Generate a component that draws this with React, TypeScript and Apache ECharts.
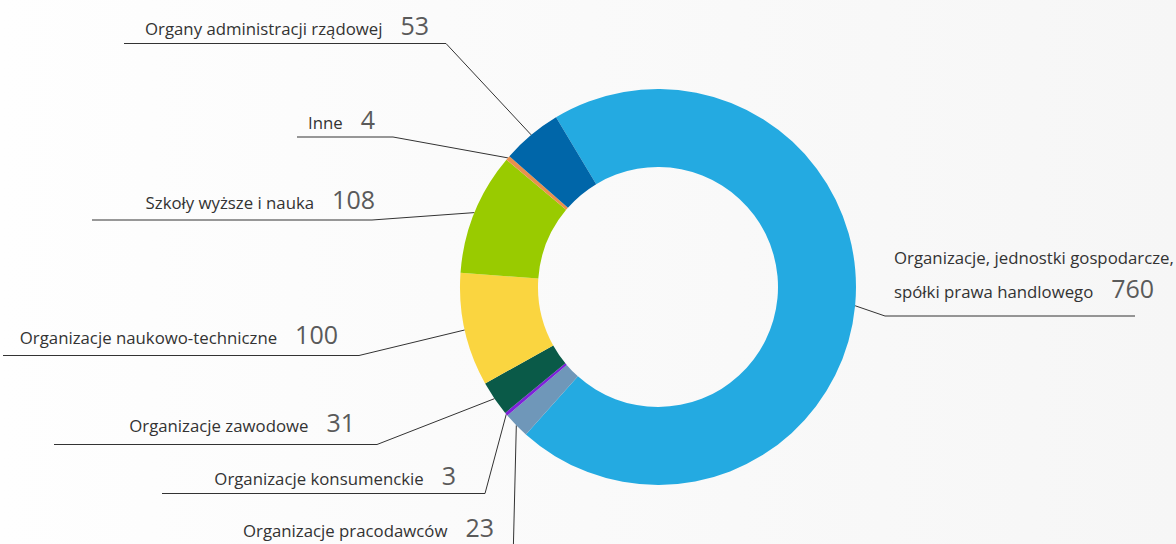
import React, { useEffect, useRef } from 'react';
import * as echarts from 'echarts';

const categories = [
  'Organizacje, jednostki gospodarcze,\nspółki prawa handlowego',
  'Organizacje pracodawców',
  'Organizacje konsumenckie',
  'Organizacje zawodowe',
  'Organizacje naukowo-techniczne',
  'Szkoły wyższe i nauka',
  'Inne',
  'Organy administracji rządowej',
];
const values = [760, 23, 3, 31, 100, 108, 4, 53];
const colors = ['#24aae1', '#6f97b9', '#7d22d9', '#0a5a48', '#fad540', '#99cb00', '#ea904d', '#0066a9'];

// label placement (layout only): text anchor, elbow of the leader line, end of the horizontal segment
const placement = [
  { align: 'left', x: 894, y: 271, elbow: [885, 316], end: 1135 },
  { align: 'right', x: 494, y: 527, elbow: [513, 562], end: 150 },
  { align: 'right', x: 456, y: 475, elbow: [485, 493.5], end: 162 },
  { align: 'right', x: 355, y: 422, elbow: [377, 444.5], end: 54 },
  { align: 'right', x: 338, y: 334, elbow: [359, 355.5], end: 3 },
  { align: 'right', x: 375, y: 199, elbow: [372, 220], end: 92 },
  { align: 'right', x: 375, y: 119, elbow: [393, 137], end: 297 },
  { align: 'right', x: 429, y: 25, elbow: [446, 43.5], end: 124 },
];

export default function App() {
  const ref = useRef<HTMLDivElement>(null);
  useEffect(() => {
    document.body.style.margin = '0';
    const chart = echarts.init(ref.current!, null, { renderer: 'svg' });
    chart.setOption({
      animation: false,
      backgroundColor: new echarts.graphic.LinearGradient(0, 0, 1, 0, [
        { offset: 0, color: '#fefefe' },
        { offset: 1, color: '#f6f6f6' },
      ]),
      series: [
        {
          type: 'pie',
          center: [658, 287],
          radius: [120, 198],
          startAngle: 121,
          clockwise: true,
          avoidLabelOverlap: false,
          data: values.map((v, i) => ({ value: v, name: categories[i], itemStyle: { color: colors[i] } })),
          label: {
            show: true,
            position: 'outside',
            fontFamily: 'Open Sans',
            lineHeight: 34,
            formatter: (p: any) => {
              const lines = String(p.name).split('\n');
              const last = lines.pop();
              const pre = lines.map((l) => `{n|${l}}\n`).join('');
              return `${pre}{n|${last}}{v|${p.value}}`;
            },
            rich: {
              n: { fontSize: 16.8, color: '#333333', fontFamily: 'Open Sans', padding: [6, 0, 0, 0] },
              v: { fontSize: 25, color: '#5a5a5a', fontFamily: 'Open Sans', padding: [0, 0, 0, 18] },
            },
          },
          labelLine: {
            show: true,
            length: 20,
            length2: 20,
            lineStyle: { color: '#333333', width: 1 },
          },
          labelLayout: (params: any) => {
            const pl = placement[params.dataIndex];
            const p0 = params.labelLinePoints ? params.labelLinePoints[0] : pl.elbow;
            return {
              x: pl.x,
              y: pl.y,
              align: pl.align,
              verticalAlign: 'middle',
              labelLinePoints: [p0, pl.elbow, [pl.end, pl.elbow[1]]],
            };
          },
          emphasis: { disabled: true },
        },
      ],
    });
    return () => chart.dispose();
  }, []);
  return <div ref={ref} style={{ width: 1176, height: 544 }} />;
}
